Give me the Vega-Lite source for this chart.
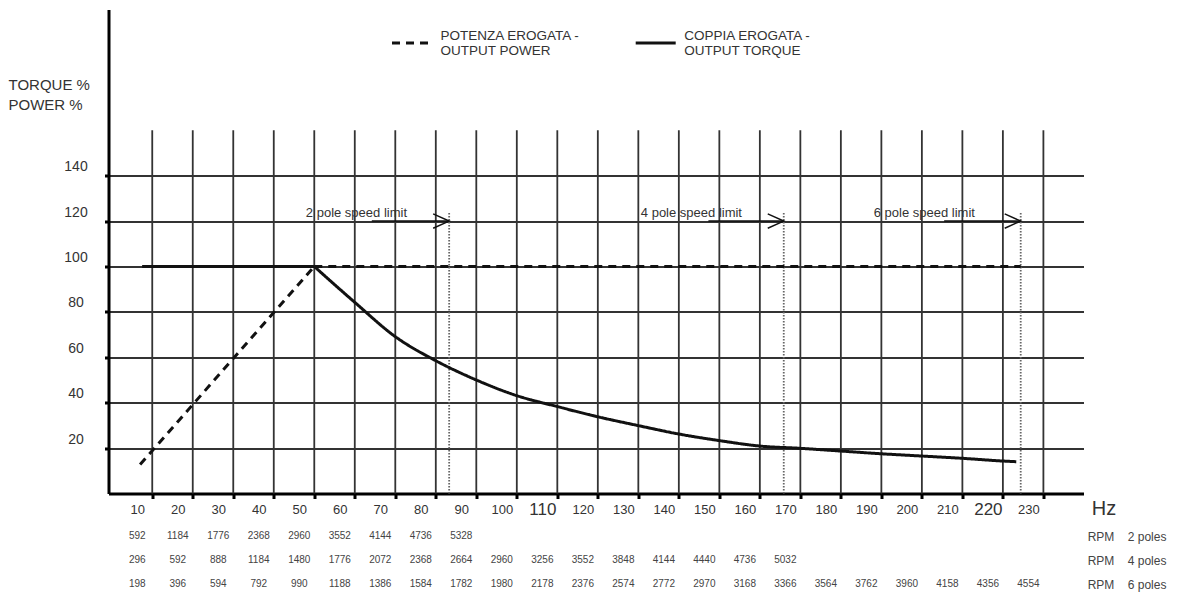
{
  "$schema": "https://vega.github.io/schema/vega-lite/v6.json",
  "autosize": {"type": "pad"},
  "padding": {"left": 7.5, "top": 9.5, "right": 0, "bottom": 0},
  "background": "white",
  "bounds": "flush",
  "spacing": 30.7,
  "config": {"view": {"stroke": null}, "font": "Liberation Sans"},
  "datasets": {
    "curves": [
      {"series": "POTENZA EROGATA -|OUTPUT POWER", "part": "p1", "hz": 7.0, "pct": 12.8},
      {"series": "POTENZA EROGATA -|OUTPUT POWER", "part": "p1", "hz": 50, "pct": 100},
      {"series": "POTENZA EROGATA -|OUTPUT POWER", "part": "p2", "hz": 50, "pct": 100},
      {"series": "POTENZA EROGATA -|OUTPUT POWER", "part": "p2", "hz": 224.4, "pct": 100},
      {"series": "COPPIA EROGATA -|OUTPUT TORQUE", "part": "t1", "hz": 7.5, "pct": 100},
      {"series": "COPPIA EROGATA -|OUTPUT TORQUE", "part": "t1", "hz": 50, "pct": 100},
      {"series": "COPPIA EROGATA -|OUTPUT TORQUE", "part": "t2", "hz": 50, "pct": 100},
      {"series": "COPPIA EROGATA -|OUTPUT TORQUE", "part": "t2", "hz": 60, "pct": 84.2},
      {"series": "COPPIA EROGATA -|OUTPUT TORQUE", "part": "t2", "hz": 70, "pct": 69.1},
      {"series": "COPPIA EROGATA -|OUTPUT TORQUE", "part": "t2", "hz": 80, "pct": 58.5},
      {"series": "COPPIA EROGATA -|OUTPUT TORQUE", "part": "t2", "hz": 90, "pct": 50.0},
      {"series": "COPPIA EROGATA -|OUTPUT TORQUE", "part": "t2", "hz": 100, "pct": 43.1},
      {"series": "COPPIA EROGATA -|OUTPUT TORQUE", "part": "t2", "hz": 110, "pct": 38.3},
      {"series": "COPPIA EROGATA -|OUTPUT TORQUE", "part": "t2", "hz": 120, "pct": 33.8},
      {"series": "COPPIA EROGATA -|OUTPUT TORQUE", "part": "t2", "hz": 130, "pct": 29.9},
      {"series": "COPPIA EROGATA -|OUTPUT TORQUE", "part": "t2", "hz": 140, "pct": 26.2},
      {"series": "COPPIA EROGATA -|OUTPUT TORQUE", "part": "t2", "hz": 150, "pct": 23.3},
      {"series": "COPPIA EROGATA -|OUTPUT TORQUE", "part": "t2", "hz": 160, "pct": 20.9},
      {"series": "COPPIA EROGATA -|OUTPUT TORQUE", "part": "t2", "hz": 170, "pct": 19.9},
      {"series": "COPPIA EROGATA -|OUTPUT TORQUE", "part": "t2", "hz": 180, "pct": 18.7},
      {"series": "COPPIA EROGATA -|OUTPUT TORQUE", "part": "t2", "hz": 190, "pct": 17.5},
      {"series": "COPPIA EROGATA -|OUTPUT TORQUE", "part": "t2", "hz": 200, "pct": 16.5},
      {"series": "COPPIA EROGATA -|OUTPUT TORQUE", "part": "t2", "hz": 210, "pct": 15.5},
      {"series": "COPPIA EROGATA -|OUTPUT TORQUE", "part": "t2", "hz": 220, "pct": 14.3},
      {"series": "COPPIA EROGATA -|OUTPUT TORQUE", "part": "t2", "hz": 223.3, "pct": 14.0}
    ],
    "gridx": [
      {"hz": 10, "lo": 0, "hi": 160}, {"hz": 20, "lo": 0, "hi": 160}, {"hz": 30, "lo": 0, "hi": 160},
      {"hz": 40, "lo": 0, "hi": 160}, {"hz": 50, "lo": 0, "hi": 160}, {"hz": 60, "lo": 0, "hi": 160},
      {"hz": 70, "lo": 0, "hi": 160}, {"hz": 80, "lo": 0, "hi": 160}, {"hz": 90, "lo": 0, "hi": 160},
      {"hz": 100, "lo": 0, "hi": 160}, {"hz": 110, "lo": 0, "hi": 160}, {"hz": 120, "lo": 0, "hi": 160},
      {"hz": 130, "lo": 0, "hi": 160}, {"hz": 140, "lo": 0, "hi": 160}, {"hz": 150, "lo": 0, "hi": 160},
      {"hz": 160, "lo": 0, "hi": 160}, {"hz": 170, "lo": 0, "hi": 160}, {"hz": 180, "lo": 0, "hi": 160},
      {"hz": 190, "lo": 0, "hi": 160}, {"hz": 200, "lo": 0, "hi": 160}, {"hz": 210, "lo": 0, "hi": 160},
      {"hz": 220, "lo": 0, "hi": 160}, {"hz": 230, "lo": 0, "hi": 160}
    ],
    "limits": [
      {"label": "2 pole speed limit", "hz": 83.3, "lo": 0, "top": 123.8, "from": 64.2, "lx": 60.4, "ly": 123.5, "ay": 120},
      {"label": "4 pole speed limit", "hz": 165.9, "lo": 0, "top": 123.8, "from": 147.3, "lx": 143.1, "ly": 123.5, "ay": 120},
      {"label": "6 pole speed limit", "hz": 224.4, "lo": 0, "top": 123.8, "from": 205.5, "lx": 200.6, "ly": 123.5, "ay": 120}
    ],
    "rpm": [
      {"row": "RPM\u00a0\u00a0\u00a0\u00a02 poles", "hz": 10, "rpm": "592"},
      {"row": "RPM\u00a0\u00a0\u00a0\u00a02 poles", "hz": 20, "rpm": "1184"},
      {"row": "RPM\u00a0\u00a0\u00a0\u00a02 poles", "hz": 30, "rpm": "1776"},
      {"row": "RPM\u00a0\u00a0\u00a0\u00a02 poles", "hz": 40, "rpm": "2368"},
      {"row": "RPM\u00a0\u00a0\u00a0\u00a02 poles", "hz": 50, "rpm": "2960"},
      {"row": "RPM\u00a0\u00a0\u00a0\u00a02 poles", "hz": 60, "rpm": "3552"},
      {"row": "RPM\u00a0\u00a0\u00a0\u00a02 poles", "hz": 70, "rpm": "4144"},
      {"row": "RPM\u00a0\u00a0\u00a0\u00a02 poles", "hz": 80, "rpm": "4736"},
      {"row": "RPM\u00a0\u00a0\u00a0\u00a02 poles", "hz": 90, "rpm": "5328"},
      {"row": "RPM\u00a0\u00a0\u00a0\u00a04 poles", "hz": 10, "rpm": "296"},
      {"row": "RPM\u00a0\u00a0\u00a0\u00a04 poles", "hz": 20, "rpm": "592"},
      {"row": "RPM\u00a0\u00a0\u00a0\u00a04 poles", "hz": 30, "rpm": "888"},
      {"row": "RPM\u00a0\u00a0\u00a0\u00a04 poles", "hz": 40, "rpm": "1184"},
      {"row": "RPM\u00a0\u00a0\u00a0\u00a04 poles", "hz": 50, "rpm": "1480"},
      {"row": "RPM\u00a0\u00a0\u00a0\u00a04 poles", "hz": 60, "rpm": "1776"},
      {"row": "RPM\u00a0\u00a0\u00a0\u00a04 poles", "hz": 70, "rpm": "2072"},
      {"row": "RPM\u00a0\u00a0\u00a0\u00a04 poles", "hz": 80, "rpm": "2368"},
      {"row": "RPM\u00a0\u00a0\u00a0\u00a04 poles", "hz": 90, "rpm": "2664"},
      {"row": "RPM\u00a0\u00a0\u00a0\u00a04 poles", "hz": 100, "rpm": "2960"},
      {"row": "RPM\u00a0\u00a0\u00a0\u00a04 poles", "hz": 110, "rpm": "3256"},
      {"row": "RPM\u00a0\u00a0\u00a0\u00a04 poles", "hz": 120, "rpm": "3552"},
      {"row": "RPM\u00a0\u00a0\u00a0\u00a04 poles", "hz": 130, "rpm": "3848"},
      {"row": "RPM\u00a0\u00a0\u00a0\u00a04 poles", "hz": 140, "rpm": "4144"},
      {"row": "RPM\u00a0\u00a0\u00a0\u00a04 poles", "hz": 150, "rpm": "4440"},
      {"row": "RPM\u00a0\u00a0\u00a0\u00a04 poles", "hz": 160, "rpm": "4736"},
      {"row": "RPM\u00a0\u00a0\u00a0\u00a04 poles", "hz": 170, "rpm": "5032"},
      {"row": "RPM\u00a0\u00a0\u00a0\u00a06 poles", "hz": 10, "rpm": "198"},
      {"row": "RPM\u00a0\u00a0\u00a0\u00a06 poles", "hz": 20, "rpm": "396"},
      {"row": "RPM\u00a0\u00a0\u00a0\u00a06 poles", "hz": 30, "rpm": "594"},
      {"row": "RPM\u00a0\u00a0\u00a0\u00a06 poles", "hz": 40, "rpm": "792"},
      {"row": "RPM\u00a0\u00a0\u00a0\u00a06 poles", "hz": 50, "rpm": "990"},
      {"row": "RPM\u00a0\u00a0\u00a0\u00a06 poles", "hz": 60, "rpm": "1188"},
      {"row": "RPM\u00a0\u00a0\u00a0\u00a06 poles", "hz": 70, "rpm": "1386"},
      {"row": "RPM\u00a0\u00a0\u00a0\u00a06 poles", "hz": 80, "rpm": "1584"},
      {"row": "RPM\u00a0\u00a0\u00a0\u00a06 poles", "hz": 90, "rpm": "1782"},
      {"row": "RPM\u00a0\u00a0\u00a0\u00a06 poles", "hz": 100, "rpm": "1980"},
      {"row": "RPM\u00a0\u00a0\u00a0\u00a06 poles", "hz": 110, "rpm": "2178"},
      {"row": "RPM\u00a0\u00a0\u00a0\u00a06 poles", "hz": 120, "rpm": "2376"},
      {"row": "RPM\u00a0\u00a0\u00a0\u00a06 poles", "hz": 130, "rpm": "2574"},
      {"row": "RPM\u00a0\u00a0\u00a0\u00a06 poles", "hz": 140, "rpm": "2772"},
      {"row": "RPM\u00a0\u00a0\u00a0\u00a06 poles", "hz": 150, "rpm": "2970"},
      {"row": "RPM\u00a0\u00a0\u00a0\u00a06 poles", "hz": 160, "rpm": "3168"},
      {"row": "RPM\u00a0\u00a0\u00a0\u00a06 poles", "hz": 170, "rpm": "3366"},
      {"row": "RPM\u00a0\u00a0\u00a0\u00a06 poles", "hz": 180, "rpm": "3564"},
      {"row": "RPM\u00a0\u00a0\u00a0\u00a06 poles", "hz": 190, "rpm": "3762"},
      {"row": "RPM\u00a0\u00a0\u00a0\u00a06 poles", "hz": 200, "rpm": "3960"},
      {"row": "RPM\u00a0\u00a0\u00a0\u00a06 poles", "hz": 210, "rpm": "4158"},
      {"row": "RPM\u00a0\u00a0\u00a0\u00a06 poles", "hz": 220, "rpm": "4356"},
      {"row": "RPM\u00a0\u00a0\u00a0\u00a06 poles", "hz": 230, "rpm": "4554"}
    ]
  },
  "vconcat": [
    {
      "width": 975,
      "height": 484,
      "encoding": {
        "x": {
          "field": "hz", "type": "quantitative",
          "scale": {"domain": [-0.8, 239.9], "nice": false, "zero": false},
          "axis": {
            "values": [10,20,30,40,50,60,70,80,90,100,110,120,130,140,150,160,170,180,190,200,210,220,230],
            "title": "Hz", "titleX": 995, "titleY": 14.5, "titleAlign": "center", "titleBaseline": "middle",
            "titleFontSize": 20, "titleFontWeight": "normal", "titleColor": "#333",
            "grid": false, "domainColor": "#000", "domainWidth": 3,
            "tickColor": "#000", "tickWidth": 3, "tickSize": 5,
            "labelFontSize": {"condition": {"test": "datum.value == 110 || datum.value == 220", "value": 17}, "value": 13},
            "labelColor": "#333", "labelBaseline": "middle", "labelPadding": 11, "labelOffset": -15,
            "labelFlush": false, "labelOverlap": false
          }
        },
        "y": {
          "field": "pct", "type": "quantitative",
          "scale": {"domain": [0, 213.2], "nice": false, "zero": false},
          "axis": {
            "values": [20,40,60,80,100,120,140],
            "title": ["TORQUE %", "POWER %"], "titleAngle": 0, "titleAlign": "left", "titleBaseline": "top",
            "titleX": -100.5, "titleY": 67.5, "titleFontSize": 15, "titleFontWeight": "normal",
            "titleColor": "#333", "titleLineHeight": 20,
            "grid": true, "gridColor": "#333", "gridWidth": 1.8,
            "domainColor": "#000", "domainWidth": 3,
            "tickColor": "#000", "tickWidth": 3, "tickSize": 4,
            "labelFontSize": 14, "labelColor": "#333", "labelAlign": "center", "labelBaseline": "middle",
            "labelPadding": 29, "labelOffset": -9
          }
        }
      },
      "layer": [
        {
          "data": {"name": "gridx"},
          "mark": {"type": "rule", "color": "#333", "strokeWidth": 1.8},
          "encoding": {
            "y": {"field": "lo", "type": "quantitative"},
            "y2": {"field": "hi"}
          }
        },
        {
          "data": {"name": "limits"},
          "mark": {"type": "rule", "color": "#666", "strokeWidth": 1.8, "strokeDash": [1.5, 1.5]},
          "encoding": {
            "y": {"field": "lo", "type": "quantitative"},
            "y2": {"field": "top"}
          }
        },
        {
          "data": {"name": "limits"},
          "mark": {"type": "rule", "color": "#111", "strokeWidth": 1.5},
          "encoding": {
            "x": {"field": "from", "type": "quantitative"},
            "x2": {"field": "hz"},
            "y": {"field": "ay", "type": "quantitative"}
          }
        },
        {
          "data": {"name": "limits"},
          "mark": {"type": "point", "shape": "M-1,-0.45L0,0L-1,0.45", "size": 1024, "filled": false, "stroke": "#111", "strokeWidth": 1.5, "opacity": 1},
          "encoding": {
            "y": {"field": "ay", "type": "quantitative"}
          }
        },
        {
          "data": {"name": "limits"},
          "mark": {"type": "text", "fontSize": 13, "color": "#333", "baseline": "middle", "align": "center"},
          "encoding": {
            "x": {"field": "lx", "type": "quantitative"},
            "y": {"field": "ly", "type": "quantitative"},
            "text": {"field": "label"}
          }
        },
        {
          "data": {"name": "curves"},
          "mark": {"type": "line", "color": "#111", "strokeWidth": 3, "interpolate": "monotone"},
          "encoding": {
            "detail": {"field": "part", "type": "nominal"},
            "strokeDash": {
              "field": "series", "type": "nominal",
              "scale": {"domain": ["POTENZA EROGATA -|OUTPUT POWER", "COPPIA EROGATA -|OUTPUT TORQUE"], "range": [[8, 6], [1, 0]]},
              "legend": {
                "orient": "none", "legendX": 282, "legendY": 11.7, "direction": "horizontal",
                "title": null, "symbolType": "stroke", "symbolSize": 1600, "symbolStrokeWidth": 3,
                "symbolStrokeColor": "#111", "labelFontSize": 13.5, "labelColor": "#333", "labelOffset": 7,
                "labelBaseline": "bottom",
                "columnPadding": 48.7, "padding": 0, "labelLimit": 0,
                "labelExpr": "split(datum.label, '|')"
              }
            }
          }
        }
      ]
    },
    {
      "width": 975,
      "height": 72,
      "data": {"name": "rpm"},
      "mark": {"type": "text", "fontSize": 10, "color": "#444", "dx": -15, "baseline": "middle", "align": "center"},
      "encoding": {
        "x": {"field": "hz", "type": "quantitative", "scale": {"domain": [-0.8, 239.9], "nice": false, "zero": false}, "axis": null},
        "y": {
          "field": "row", "type": "nominal",
          "scale": {"type": "point", "padding": 0.5, "domain": ["RPM\u00a0\u00a0\u00a0\u00a02 poles", "RPM\u00a0\u00a0\u00a0\u00a04 poles", "RPM\u00a0\u00a0\u00a0\u00a06 poles"]},
          "axis": {"orient": "right", "domain": false, "ticks": false, "title": null, "labelPadding": 3.7, "labelFontSize": 12, "labelColor": "#444", "labelLimit": 0}
        },
        "text": {"field": "rpm"}
      }
    }
  ]
}
